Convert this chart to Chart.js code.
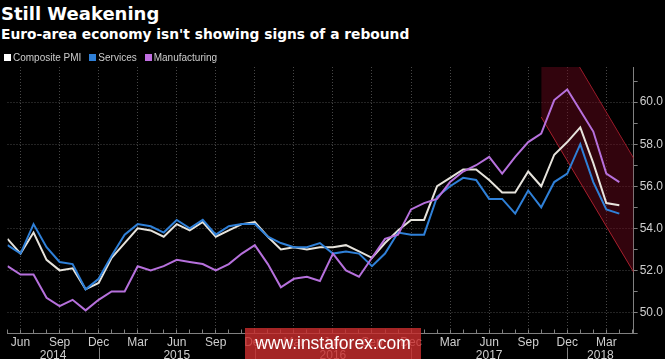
<!DOCTYPE html>
<html>
<head>
<meta charset="utf-8">
<script src="https://cdn.jsdelivr.net/npm/chart.js@4"></script>
<style>
  body { margin: 0; background: #000; width: 665px; height: 359px; overflow: hidden; position: relative; font-family: "Liberation Sans", Arial, sans-serif; }
  .title { position: absolute; left: 1px; top: 5px; font: bold 18px/18px "DejaVu Sans", sans-serif; color: #fff; white-space: nowrap; }
  .subtitle { position: absolute; left: 1px; top: 27px; font: bold 13.8px/14px "DejaVu Sans", sans-serif; color: #fff; white-space: nowrap; }
  .legend { position: absolute; left: 4px; top: 52px; font-size: 10px; line-height: 11px; color: #ccc; display: flex; z-index: 2; }
  .legend .item { display: flex; align-items: center; margin-right: 8px; }
  .legend i { width: 7px; height: 7px; margin-right: 2px; display: inline-block; }
  .chart-wrap { position: absolute; left: 0; top: 59px; width: 665px; height: 300px; }
  .watermark { position: absolute; left: 245px; top: 328px; width: 176px; height: 31px; background: rgba(200, 45, 45, 0.82); color: #fff; font: 17.5px/31px "Liberation Sans", Arial, sans-serif; text-align: center; }
</style>
</head>
<body>
<div class="title">Still Weakening</div>
<div class="subtitle">Euro-area economy isn't showing signs of a rebound</div>
<div class="chart-wrap"><canvas id="pmi-chart"></canvas></div>
<div class="legend">
  <span class="item"><i style="background:#fff"></i>Composite PMI</span>
  <span class="item"><i style="background:#2f80d8"></i>Services</span>
  <span class="item"><i style="background:#c06ee0"></i>Manufacturing</span>
</div>
<div class="watermark">www.instaforex.com</div>

<script>
// monthly readings, May 2014 - Apr 2018
const months = [
  '2014-05', '2014-06', '2014-07', '2014-08', '2014-09', '2014-10', '2014-11', '2014-12',
  '2015-01', '2015-02', '2015-03', '2015-04', '2015-05', '2015-06', '2015-07', '2015-08', '2015-09', '2015-10', '2015-11', '2015-12',
  '2016-01', '2016-02', '2016-03', '2016-04', '2016-05', '2016-06', '2016-07', '2016-08', '2016-09', '2016-10', '2016-11', '2016-12',
  '2017-01', '2017-02', '2017-03', '2017-04', '2017-05', '2017-06', '2017-07', '2017-08', '2017-09', '2017-10', '2017-11', '2017-12',
  '2018-01', '2018-02', '2018-03', '2018-04'
];

const composite = [
  53.5, 52.8, 53.8, 52.5, 52.0, 52.1, 51.1, 51.4,
  52.6, 53.3, 54.0, 53.9, 53.6, 54.2, 53.9, 54.3, 53.6, 53.9, 54.2, 54.3,
  53.6, 53.0, 53.1, 53.0, 53.1, 53.1, 53.2, 52.9, 52.6, 53.3, 53.9, 54.4,
  54.4, 56.0, 56.4, 56.8, 56.8, 56.3, 55.7, 55.7, 56.7, 56.0, 57.5, 58.1,
  58.8, 57.1, 55.2, 55.1
];

const services = [
  53.2, 52.8, 54.2, 53.1, 52.4, 52.3, 51.1, 51.6,
  52.7, 53.7, 54.2, 54.1, 53.8, 54.4, 54.0, 54.4, 53.7, 54.1, 54.2, 54.2,
  53.6, 53.3, 53.1, 53.1, 53.3, 52.8, 52.9, 52.8, 52.2, 52.8, 53.8, 53.7,
  53.7, 55.5, 56.0, 56.4, 56.3, 55.4, 55.4, 54.7, 55.8, 55.0, 56.2, 56.6,
  58.0, 56.2, 54.9, 54.7
];

const manufacturing = [
  52.2, 51.8, 51.8, 50.7, 50.3, 50.6, 50.1, 50.6,
  51.0, 51.0, 52.2, 52.0, 52.2, 52.5, 52.4, 52.3, 52.0, 52.3, 52.8, 53.2,
  52.3, 51.2, 51.6, 51.7, 51.5, 52.8, 52.0, 51.7, 52.6, 53.5, 53.7, 54.9,
  55.2, 55.4, 56.2, 56.7, 57.0, 57.4, 56.6, 57.4, 58.1, 58.5, 60.1, 60.6,
  59.6, 58.6, 56.6, 56.2
];

const monthNames = ['Jan', 'Feb', 'Mar', 'Apr', 'May', 'Jun', 'Jul', 'Aug', 'Sep', 'Oct', 'Nov', 'Dec'];
const labelledMonths = [3, 6, 9, 12];
const years = ['2014', '2015', '2016', '2017', '2018'];

// downward channel drawn over the latest months (x = month index)
const channelX = [41, 48.1];
const channelTop = [64.74, 57.33];
const channelBottom = [59.29, 51.92];

const xMin = 0;
const xMax = 48.1;

const gridColor = 'rgba(255,255,255,0.28)';
const axisColor = '#808080';
const labelColor = '#cfcfcf';
const fontFamily = '"Liberation Sans", Arial, sans-serif';
const tickFont = { family: fontFamily, size: 12, lineHeight: 1 };

const toPoints = (values) => values.map((v, i) => ({ x: i, y: v }));

const monthLabel = (value) => {
  const m = months[Math.round(value)];
  if (!m || value !== Math.round(value)) return '';
  const mm = parseInt(m.slice(5), 10);
  return labelledMonths.includes(mm) ? monthNames[mm - 1] : '';
};

// year labels sit in the middle of each year's span, separators at December
const decIdx = years.map(y => months.indexOf(y + '-12'));

const yearRow = {
  id: 'yearRow',
  afterDraw: (chart) => {
    const xs = chart.scales.x;
    const ctx = chart.ctx;
    const top = chart.chartArea.bottom;
    ctx.save();
    ctx.strokeStyle = axisColor;
    ctx.lineWidth = 1;
    ctx.fillStyle = labelColor;
    ctx.font = '12px ' + fontFamily;
    ctx.textAlign = 'center';
    ctx.textBaseline = 'middle';
    years.forEach((y, i) => {
      const start = i === 0 ? xMin : decIdx[i - 1];
      const end = decIdx[i] === -1 ? xMax : decIdx[i];
      ctx.fillText(y, xs.getPixelForValue((start + end) / 2), top + 22);
      if (decIdx[i] !== -1) {
        const px = Math.round(xs.getPixelForValue(decIdx[i])) + 0.5;
        ctx.beginPath();
        ctx.moveTo(px, top + 14);
        ctx.lineTo(px, chart.height);
        ctx.stroke();
      }
    });
    ctx.restore();
  }
};

const lineSet = (label, values, color, order) => ({
  label: label,
  data: toPoints(values),
  borderColor: color,
  borderWidth: 2,
  pointRadius: 0,
  tension: 0,
  fill: false,
  order: order
});

const data = {
  datasets: [
    lineSet('Composite PMI', composite, '#e6e3dc', 2),
    lineSet('Services', services, '#2f80d8', 1),
    lineSet('Manufacturing', manufacturing, '#b670dc', 0),
    {
      label: 'channel top',
      data: channelX.map((x, i) => ({ x: x, y: channelTop[i] })),
      borderColor: 'rgba(185,35,50,0.9)',
      borderWidth: 1,
      pointRadius: 0,
      fill: false,
      order: 10
    },
    {
      label: 'channel bottom',
      data: channelX.map((x, i) => ({ x: x, y: channelBottom[i] })),
      borderColor: 'rgba(185,35,50,0.9)',
      backgroundColor: 'rgba(110,8,28,0.45)',
      borderWidth: 1,
      pointRadius: 0,
      fill: '-1',
      order: 9
    }
  ]
};

const config = {
  type: 'line',
  data: data,
  plugins: [yearRow],
  options: {
    responsive: true,
    maintainAspectRatio: false,
    animation: false,
    layout: { padding: { top: 0, bottom: 2.5, left: 0, right: 0 } },
    plugins: {
      legend: { display: false },
      tooltip: { enabled: false }
    },
    scales: {
      x: {
        type: 'linear',
        position: 'bottom',
        min: xMin,
        max: xMax,
        grid: {
          color: (ctx) => (ctx.tick && monthLabel(ctx.tick.value) ? gridColor : 'transparent'),
          tickColor: axisColor,
          tickLength: -4,
          lineWidth: 1
        },
        border: { display: true, color: axisColor, dash: [1, 2] },
        ticks: {
          stepSize: 1,
          includeBounds: false,
          autoSkip: false,
          maxRotation: 0,
          padding: 7.5,
          color: labelColor,
          font: tickFont,
          callback: (value) => monthLabel(value)
        }
      },
      y: {
        type: 'linear',
        position: 'right',
        min: 49,
        max: 61.67,
        grid: {
          color: (ctx) => (ctx.tick && ctx.tick.value % 2 === 0 ? gridColor : 'transparent'),
          tickColor: axisColor,
          tickLength: 4
        },
        border: { display: true, color: axisColor, dash: [1, 2] },
        ticks: {
          stepSize: 1,
          includeBounds: false,
          padding: 2,
          color: labelColor,
          font: tickFont,
          callback: (value) => (value % 2 === 0 ? value.toFixed(1) : '')
        }
      }
    }
  }
};

const pmiChart = new Chart(document.getElementById('pmi-chart'), config);
</script>
</body>
</html>
